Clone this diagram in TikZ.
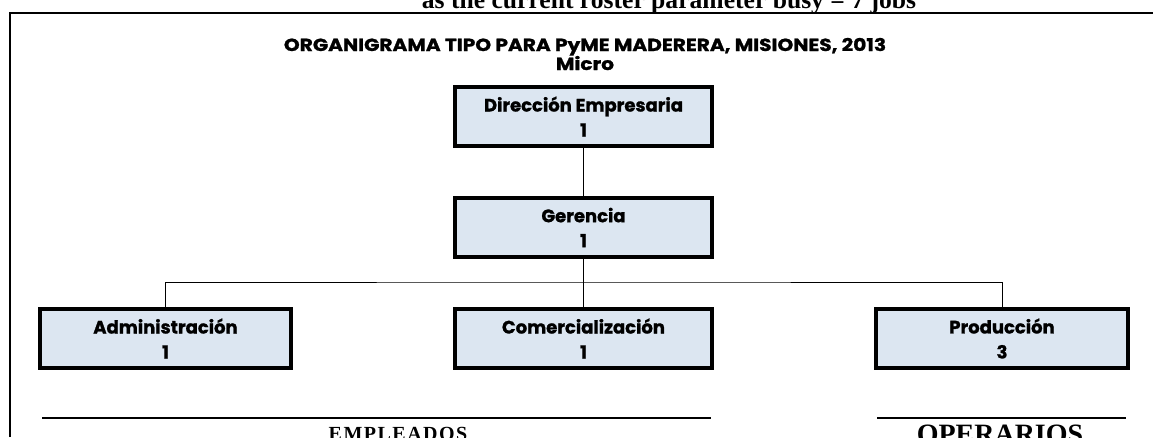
\documentclass[tikz,border=0pt]{standalone}
\usepackage{fontspec}
\setmainfont{Liberation Serif}
\newfontfamily\orgfont{Poppins}[BoldFeatures={FakeBold=1.2}]
\newfontfamily\headfont{Poppins}[FakeStretch=1.15, BoldFeatures={FakeBold=1.2}]
\usetikzlibrary{calc,positioning}
\definecolor{boxblue}{RGB}{220,230,241}
\tikzset{
	orgbox/.style={draw=black, line width=3.5pt, fill=boxblue, minimum height=59pt, inner sep=0pt, align=center, font=\orgfont\bfseries\fontsize{18}{25}\selectfont},
	head/.style={anchor=base, font=\headfont\bfseries\fontsize{17.5}{20}\selectfont},
	link/.style={line width=0.8pt},
	rule/.style={line width=2pt}
}

\begin{document}
\begin{tikzpicture}[x=1pt, y=-1pt]
			%%%%% START %%%%%
			
			\useasboundingbox (0, 0) rectangle (1153, 437);
			
			\node[anchor=base, font=\bfseries\fontsize{25.6}{26}\selectfont] (caption) at (669, 8) {as the current roster parameter busy = 7 jobs};
			\draw[rule] (10, 437) -- (10, 13) -- (1153, 13);
			
			\node[head] (title) at (585, 51) {ORGANIGRAMA TIPO PARA PyME MADERERA, MISIONES, 2013};
			\node[head] (size) at (585, 70) {Micro};
			
			\node[orgbox, minimum width=257pt] (dir) at (583.5, 116.5) {Dirección Empresaria\\1};
			\node[orgbox, minimum width=257pt] (ger) at (583.5, 227.5) {Gerencia\\1};
			
			\node[orgbox, minimum width=251pt] (adm) at (165.5, 338.5) {Administración\\1};
			\node[orgbox, minimum width=257pt] (com) at (583.5, 338.5) {Comercialización\\1};
			\node[orgbox, minimum width=252pt] (pro) at (1002, 338.5) {Producción\\3};
			
			\coordinate (bus) at (583.5, 282);
			\draw[link] (dir) -- (ger);
			\draw[link] (ger) -- (com);
			\draw[link] (adm.north) |- (bus) -| (pro.north);
			
			\draw[rule] (42, 418) -- (711, 418);
			\node[anchor=base, font=\bfseries\fontsize{20}{20}\selectfont] (empl) at (398, 440) {E\hspace{1.5pt}M\hspace{1.5pt}P\hspace{1.5pt}L\hspace{1.5pt}E\hspace{1.5pt}A\hspace{1.5pt}D\hspace{1.5pt}O\hspace{1.5pt}S};
			\draw[rule] (877, 418) -- (1126, 418);
			\node[anchor=base, font=\bfseries\fontsize{28}{30}\selectfont] (oper) at (1000, 443) {OPERARIOS};
			
			%%%%% END %%%%%
\end{tikzpicture}
\end{document}
